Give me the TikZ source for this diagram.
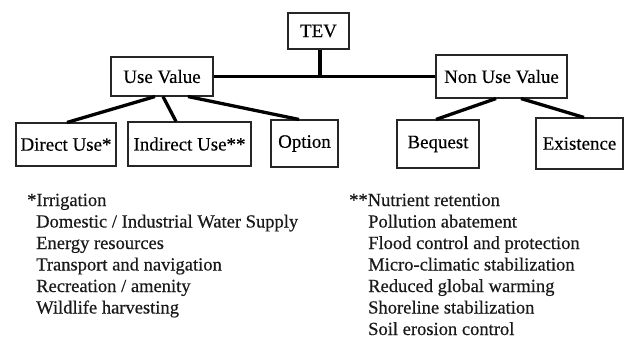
\documentclass[tikz,border=0pt]{standalone}
\usepackage{fontspec}
\setmainfont{Liberation Serif}[UprightFeatures={FakeBold=0.35}]
\begin{document}
\begin{tikzpicture}[x=1bp,y=-1bp,
  box/.style={draw=black!85,line width=1.1bp,inner sep=0pt,align=center,
    font=\fontsize{19}{20}\selectfont},
  link/.style={line width=3.3bp,black},
  listtext/.style={anchor=base west,inner sep=0pt,font=\fontsize{18.6}{21.5}\selectfont,text=black!90}]
\useasboundingbox[fill=white] (0,0) rectangle (626,338);
% boxes
\node[box,minimum width=61bp,minimum height=36bp] (tev) at (318.5,31) {TEV};
\node[box,minimum width=102bp,minimum height=39bp] (uv) at (162,76.5) {Use Value};
\node[box,minimum width=131bp,minimum height=43bp] (nuv) at (501.5,76.5) {Non Use Value};
\node[box,minimum width=100bp,minimum height=43bp] (du) at (66,144.5) {Direct Use*};
\node[box,minimum width=123bp,minimum height=44bp] (iu) at (189.5,144) {Indirect Use**};
\node[box,minimum width=67bp,minimum height=47bp] (op) at (304.5,143.5) {Option};
\node[box,minimum width=82bp,minimum height=48bp] (bq) at (438,144) {Bequest};
\node[box,minimum width=87bp,minimum height=51bp] (ex) at (579.5,143.5) {Existence};
% connectors
\draw[link] (uv.east) -- (nuv.west);
\draw[link] ([xshift=1.5bp]tev.south) -- ([xshift=1.5bp]tev.south |- uv.east);
\draw[link] ([xshift=-7bp]uv.south) -- ([xshift=1bp]du.north);
\draw[link] ([xshift=1bp]uv.south) -- ([xshift=-13.5bp]iu.north);
\draw[link] ([xshift=26bp]uv.south) -- ([xshift=-5.5bp]op.north);
\draw[link] ([xshift=-5.5bp]nuv.south) -- ([xshift=-2bp]bq.north);
\draw[link] ([xshift=19.5bp]nuv.south) -- ([xshift=4.5bp]ex.north);
% left list
\node[listtext] (l1) at (27,206) {*Irrigation};
\node[listtext] (l2) at (36,227.5) {Domestic / Industrial Water Supply};
\node[listtext] (l3) at (36,249) {Energy resources};
\node[listtext] (l4) at (36,270.5) {Transport and navigation};
\node[listtext] (l5) at (36,292) {Recreation / amenity};
\node[listtext] (l6) at (36,313.5) {Wildlife harvesting};
% right list
\node[listtext] (r1) at (349,206) {**Nutrient retention};
\node[listtext] (r2) at (368,227.5) {Pollution abatement};
\node[listtext] (r3) at (368,249) {Flood control and protection};
\node[listtext] (r4) at (368,270.5) {Micro-climatic stabilization};
\node[listtext] (r5) at (368,292) {Reduced global warming};
\node[listtext] (r6) at (368,313.5) {Shoreline stabilization};
\node[listtext] (r7) at (368,335) {Soil erosion control};
\end{tikzpicture}
\end{document}
